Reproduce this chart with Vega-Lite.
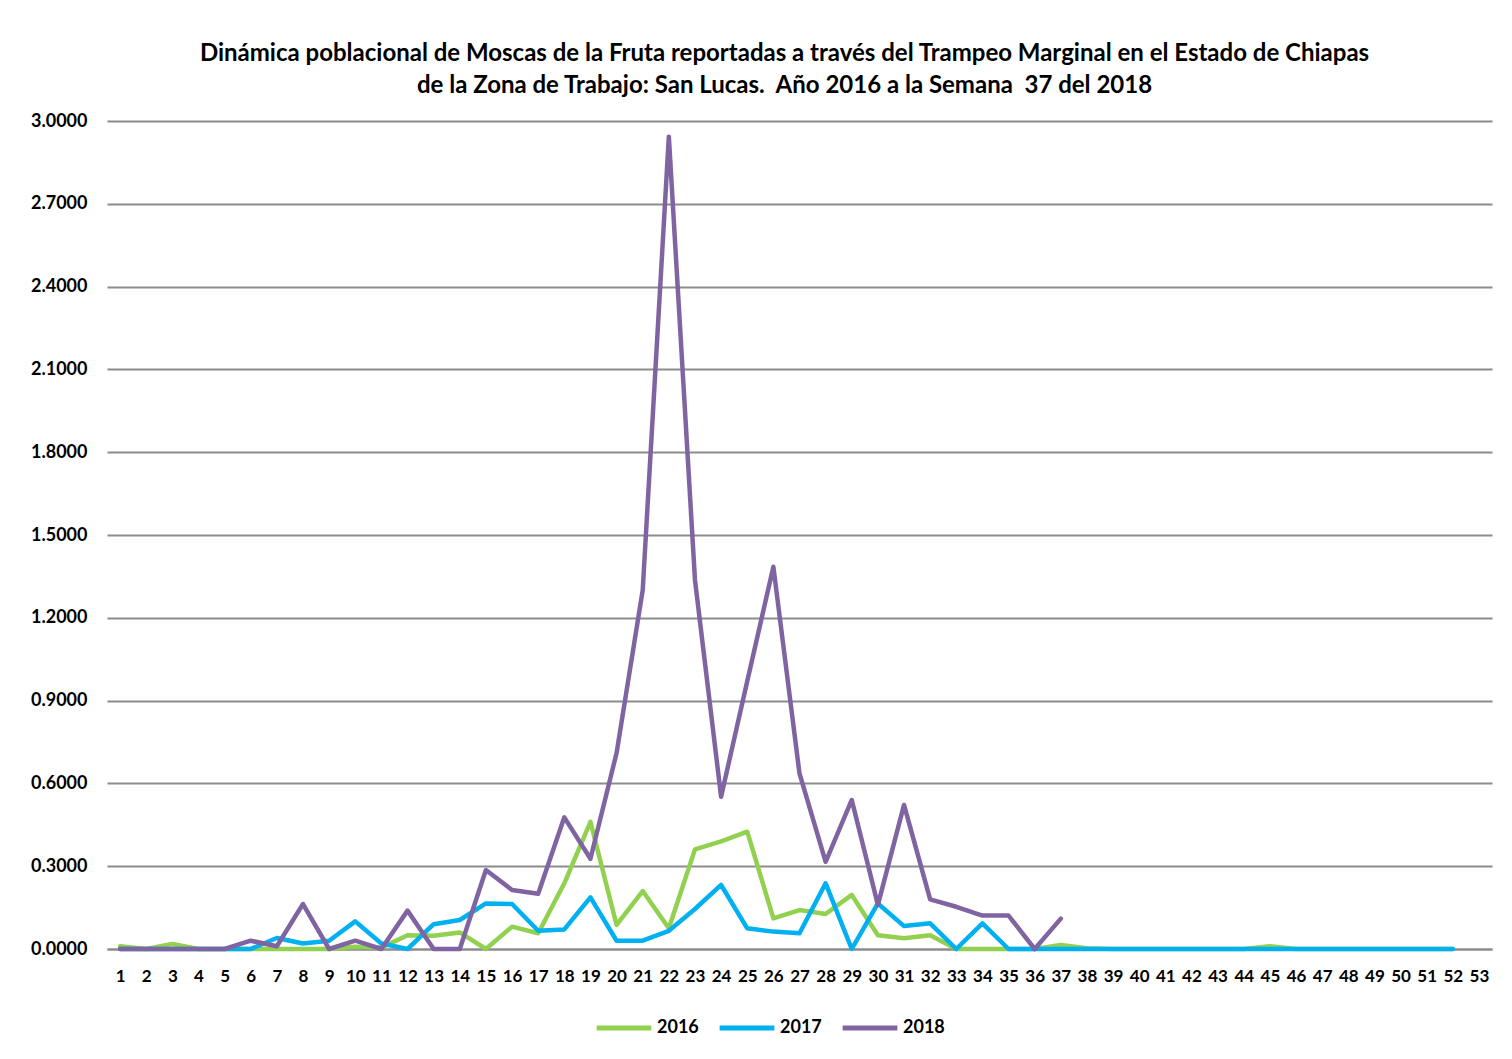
{
  "$schema": "https://vega.github.io/schema/vega-lite/v6.json",
  "autosize": "none",
  "width": 1385,
  "height": 828,
  "padding": {"left": 107, "top": 121, "right": 20, "bottom": 110},
  "background": "white",
  "config": {
    "view": {"stroke": null},
    "font": "Lato"
  },
  "title": {
    "text": ["Dinámica poblacional de Moscas de la Fruta reportadas a través del Trampeo Marginal en el Estado de Chiapas", "de la Zona de Trabajo: San Lucas.\u00a0 Año 2016 a la Semana\u00a0 37 del 2018"],
    "font": "Lato",
    "fontSize": 24,
    "fontWeight": "bold",
    "color": "#000000",
    "anchor": "middle",
    "dx": -15,
    "offset": 14,
    "lineHeight": 32
  },
  "data": {
    "values": [
      {"week": 1, "year": "2016", "value": 0.01},
      {"week": 2, "year": "2016", "value": 0.0},
      {"week": 3, "year": "2016", "value": 0.018},
      {"week": 4, "year": "2016", "value": 0.0},
      {"week": 5, "year": "2016", "value": 0.0},
      {"week": 6, "year": "2016", "value": 0.0},
      {"week": 7, "year": "2016", "value": 0.0},
      {"week": 8, "year": "2016", "value": 0.0},
      {"week": 9, "year": "2016", "value": 0.0},
      {"week": 10, "year": "2016", "value": 0.008},
      {"week": 11, "year": "2016", "value": 0.005},
      {"week": 12, "year": "2016", "value": 0.05},
      {"week": 13, "year": "2016", "value": 0.048},
      {"week": 14, "year": "2016", "value": 0.06},
      {"week": 15, "year": "2016", "value": 0.0},
      {"week": 16, "year": "2016", "value": 0.081},
      {"week": 17, "year": "2016", "value": 0.057},
      {"week": 18, "year": "2016", "value": 0.238},
      {"week": 19, "year": "2016", "value": 0.461},
      {"week": 20, "year": "2016", "value": 0.087},
      {"week": 21, "year": "2016", "value": 0.21},
      {"week": 22, "year": "2016", "value": 0.075},
      {"week": 23, "year": "2016", "value": 0.361},
      {"week": 24, "year": "2016", "value": 0.39},
      {"week": 25, "year": "2016", "value": 0.425},
      {"week": 26, "year": "2016", "value": 0.111},
      {"week": 27, "year": "2016", "value": 0.141},
      {"week": 28, "year": "2016", "value": 0.127},
      {"week": 29, "year": "2016", "value": 0.196},
      {"week": 30, "year": "2016", "value": 0.05},
      {"week": 31, "year": "2016", "value": 0.039},
      {"week": 32, "year": "2016", "value": 0.05},
      {"week": 33, "year": "2016", "value": 0.0},
      {"week": 34, "year": "2016", "value": 0.0},
      {"week": 35, "year": "2016", "value": 0.0},
      {"week": 36, "year": "2016", "value": 0.0},
      {"week": 37, "year": "2016", "value": 0.015},
      {"week": 38, "year": "2016", "value": 0.003},
      {"week": 39, "year": "2016", "value": 0.0},
      {"week": 40, "year": "2016", "value": 0.0},
      {"week": 41, "year": "2016", "value": 0.0},
      {"week": 42, "year": "2016", "value": 0.0},
      {"week": 43, "year": "2016", "value": 0.0},
      {"week": 44, "year": "2016", "value": 0.0},
      {"week": 45, "year": "2016", "value": 0.01},
      {"week": 46, "year": "2016", "value": 0.0},
      {"week": 47, "year": "2016", "value": 0.0},
      {"week": 48, "year": "2016", "value": 0.0},
      {"week": 49, "year": "2016", "value": 0.0},
      {"week": 50, "year": "2016", "value": 0.0},
      {"week": 51, "year": "2016", "value": 0.0},
      {"week": 52, "year": "2016", "value": 0.0},
      {"week": 1, "year": "2017", "value": 0.0},
      {"week": 2, "year": "2017", "value": 0.0},
      {"week": 3, "year": "2017", "value": 0.0},
      {"week": 4, "year": "2017", "value": 0.0},
      {"week": 5, "year": "2017", "value": 0.0},
      {"week": 6, "year": "2017", "value": 0.0},
      {"week": 7, "year": "2017", "value": 0.04},
      {"week": 8, "year": "2017", "value": 0.02},
      {"week": 9, "year": "2017", "value": 0.03},
      {"week": 10, "year": "2017", "value": 0.1},
      {"week": 11, "year": "2017", "value": 0.02},
      {"week": 12, "year": "2017", "value": 0.0},
      {"week": 13, "year": "2017", "value": 0.09},
      {"week": 14, "year": "2017", "value": 0.105},
      {"week": 15, "year": "2017", "value": 0.165},
      {"week": 16, "year": "2017", "value": 0.163},
      {"week": 17, "year": "2017", "value": 0.066},
      {"week": 18, "year": "2017", "value": 0.071},
      {"week": 19, "year": "2017", "value": 0.187},
      {"week": 20, "year": "2017", "value": 0.03},
      {"week": 21, "year": "2017", "value": 0.03},
      {"week": 22, "year": "2017", "value": 0.066},
      {"week": 23, "year": "2017", "value": 0.145},
      {"week": 24, "year": "2017", "value": 0.232},
      {"week": 25, "year": "2017", "value": 0.075},
      {"week": 26, "year": "2017", "value": 0.063},
      {"week": 27, "year": "2017", "value": 0.057},
      {"week": 28, "year": "2017", "value": 0.238},
      {"week": 29, "year": "2017", "value": 0.0},
      {"week": 30, "year": "2017", "value": 0.165},
      {"week": 31, "year": "2017", "value": 0.083},
      {"week": 32, "year": "2017", "value": 0.093},
      {"week": 33, "year": "2017", "value": 0.0},
      {"week": 34, "year": "2017", "value": 0.093},
      {"week": 35, "year": "2017", "value": 0.0},
      {"week": 36, "year": "2017", "value": 0.0},
      {"week": 37, "year": "2017", "value": 0.0},
      {"week": 38, "year": "2017", "value": 0.0},
      {"week": 39, "year": "2017", "value": 0.0},
      {"week": 40, "year": "2017", "value": 0.0},
      {"week": 41, "year": "2017", "value": 0.0},
      {"week": 42, "year": "2017", "value": 0.0},
      {"week": 43, "year": "2017", "value": 0.0},
      {"week": 44, "year": "2017", "value": 0.0},
      {"week": 45, "year": "2017", "value": 0.0},
      {"week": 46, "year": "2017", "value": 0.0},
      {"week": 47, "year": "2017", "value": 0.0},
      {"week": 48, "year": "2017", "value": 0.0},
      {"week": 49, "year": "2017", "value": 0.0},
      {"week": 50, "year": "2017", "value": 0.0},
      {"week": 51, "year": "2017", "value": 0.0},
      {"week": 52, "year": "2017", "value": 0.0},
      {"week": 1, "year": "2018", "value": 0.0},
      {"week": 2, "year": "2018", "value": 0.0},
      {"week": 3, "year": "2018", "value": 0.0},
      {"week": 4, "year": "2018", "value": 0.0},
      {"week": 5, "year": "2018", "value": 0.0},
      {"week": 6, "year": "2018", "value": 0.03},
      {"week": 7, "year": "2018", "value": 0.01},
      {"week": 8, "year": "2018", "value": 0.163},
      {"week": 9, "year": "2018", "value": 0.0},
      {"week": 10, "year": "2018", "value": 0.03},
      {"week": 11, "year": "2018", "value": 0.0},
      {"week": 12, "year": "2018", "value": 0.139},
      {"week": 13, "year": "2018", "value": 0.0},
      {"week": 14, "year": "2018", "value": 0.0},
      {"week": 15, "year": "2018", "value": 0.286},
      {"week": 16, "year": "2018", "value": 0.214},
      {"week": 17, "year": "2018", "value": 0.2},
      {"week": 18, "year": "2018", "value": 0.477},
      {"week": 19, "year": "2018", "value": 0.327},
      {"week": 20, "year": "2018", "value": 0.71},
      {"week": 21, "year": "2018", "value": 1.3},
      {"week": 22, "year": "2018", "value": 2.943},
      {"week": 23, "year": "2018", "value": 1.337},
      {"week": 24, "year": "2018", "value": 0.552},
      {"week": 25, "year": "2018", "value": 0.97},
      {"week": 26, "year": "2018", "value": 1.385},
      {"week": 27, "year": "2018", "value": 0.636},
      {"week": 28, "year": "2018", "value": 0.316},
      {"week": 29, "year": "2018", "value": 0.54},
      {"week": 30, "year": "2018", "value": 0.16},
      {"week": 31, "year": "2018", "value": 0.522},
      {"week": 32, "year": "2018", "value": 0.18},
      {"week": 33, "year": "2018", "value": 0.153},
      {"week": 34, "year": "2018", "value": 0.121},
      {"week": 35, "year": "2018", "value": 0.121},
      {"week": 36, "year": "2018", "value": 0.0},
      {"week": 37, "year": "2018", "value": 0.11}
    ]
  },
  "mark": {"type": "line", "strokeWidth": 4.5, "strokeJoin": "round", "strokeCap": "round"},
  "encoding": {
    "x": {
      "field": "week",
      "type": "ordinal",
      "scale": {"type": "point", "domain": [1,2,3,4,5,6,7,8,9,10,11,12,13,14,15,16,17,18,19,20,21,22,23,24,25,26,27,28,29,30,31,32,33,34,35,36,37,38,39,40,41,42,43,44,45,46,47,48,49,50,51,52,53], "padding": 0.5},
      "axis": {
        "title": null,
        "labelAngle": 0,
        "labelFont": "Lato",
        "labelFontSize": 17,
        "labelFontWeight": "bold",
        "labelColor": "#000000",
        "labelPadding": 19,
        "labelOverlap": false,
        "ticks": false,
        "domain": true,
        "domainColor": "#8c8c8c",
        "domainWidth": 2,
        "grid": false
      }
    },
    "y": {
      "field": "value",
      "type": "quantitative",
      "scale": {"domain": [0, 3], "nice": false},
      "axis": {
        "title": null,
        "values": [0, 0.3, 0.6, 0.9, 1.2, 1.5, 1.8, 2.1, 2.4, 2.7, 3.0],
        "format": ".4f",
        "labelFont": "Lato",
        "labelFontSize": 18,
        "labelFontWeight": "bold",
        "labelColor": "#000000",
        "labelPadding": 20,
        "ticks": false,
        "domain": false,
        "grid": true,
        "gridColor": "#8c8c8c",
        "gridWidth": 2
      }
    },
    "color": {
      "field": "year",
      "type": "nominal",
      "scale": {"domain": ["2016", "2017", "2018"], "range": ["#92D050", "#00B0F0", "#8064A2"]},
      "legend": {
        "title": null,
        "orient": "none",
        "legendX": 487,
        "legendY": 877,
        "direction": "horizontal",
        "symbolType": "stroke",
        "symbolSize": 3000,
        "symbolStrokeWidth": 5,
        "labelFont": "Lato",
        "labelFontSize": 18,
        "labelFontWeight": "bold",
        "labelColor": "#000000",
        "labelOffset": 3,
        "columnPadding": 10
      }
    }
  }
}
